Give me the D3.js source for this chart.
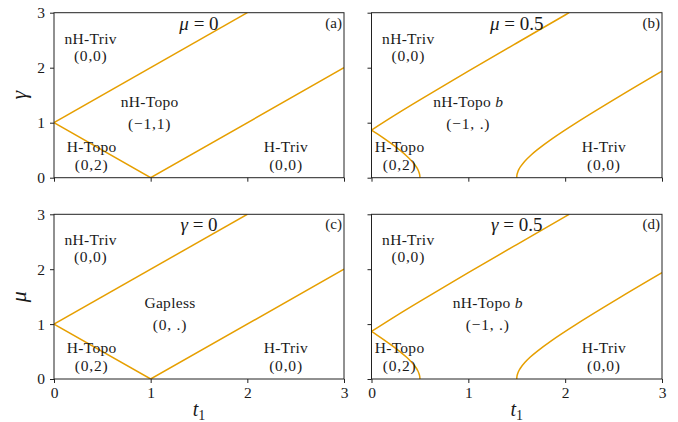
<!DOCTYPE html>
<html><head><meta charset="utf-8">
<script src="https://cdn.jsdelivr.net/npm/d3@7"></script>
<style>
body{margin:0;background:#fff;}
text{font-family:"Liberation Serif","Times New Roman",serif;fill:#1a1a1a;}
</style></head>
<body><svg id="c" width="678" height="422"></svg>
<script>
// ---- data ----
const tickValues = [0, 1, 2, 3];
// mu = 0 / gamma = 0 phase boundaries (t1, value)
const upper0T = [0, 2];
const upper0V = [1, 3];
const lower0T = [0, 1, 3];
const lower0V = [1, 0, 2];
// mu = 0.5 / gamma = 0.5 phase boundaries
const upperBT = [0, 0.25, 0.5, 1, 1.5, 2, 2.041];
const upperBV = [0.866, 1.146, 1.414, 1.936, 2.449, 2.958, 3.0];
const leftBT = [0, 0.057, 0.140, 0.219, 0.293, 0.360, 0.417, 0.462, 0.478, 0.490, 0.498, 0.5];
const leftBV = [0.866, 0.8, 0.7, 0.6, 0.5, 0.4, 0.3, 0.2, 0.15, 0.1, 0.05, 0];
const rightBT = [1.5, 1.502, 1.510, 1.522, 1.539, 1.583, 1.640, 1.707, 1.860, 2.118, 2.581, 3.0];
const rightBV = [0, 0.05, 0.1, 0.15, 0.2, 0.3, 0.4, 0.5, 0.7, 1.0, 1.5, 1.936];

const panelTags = ["(a)", "(b)", "(c)", "(d)"];
const panelTitles = [["μ", " = 0"], ["μ", " = 0.5"], ["γ", " = 0"], ["γ", " = 0.5"]];
const yLabels = ["γ", "μ"];

const zip = (a, b) => a.map((v, i) => [v, b[i]]);
const curves0 = [zip(upper0T, upper0V), zip(lower0T, lower0V)];
const curvesB = [zip(upperBT, upperBV), zip(leftBT, leftBV), zip(rightBT, rightBV)];

// region labels: [line1, italic suffix, line2, t1 centre, row]
const labelsA = [["nH-Triv", "", "(0,0)", 0.38, "top"], ["nH-Topo", "", "(−1,1)", 0.99, "mid"], ["H-Topo", "", "(0,2)", 0.39, "bot"], ["H-Triv", "", "(0,0)", 2.4, "bot"]];
const labelsB = [["nH-Triv", "", "(0,0)", 0.38, "top"], ["nH-Topo ", "b", "(−1, .)", 1.0, "mid"], ["H-Topo", "", "(0,2)", 0.29, "bot"], ["H-Triv", "", "(0,0)", 2.4, "bot"]];
const labelsC = [["nH-Triv", "", "(0,0)", 0.38, "top"], ["Gapless", "", "(0, .)", 1.2, "mid"], ["H-Topo", "", "(0,2)", 0.39, "bot"], ["H-Triv", "", "(0,0)", 2.4, "bot"]];
const labelsD = [["nH-Triv", "", "(0,0)", 0.38, "top"], ["nH-Topo ", "b", "(−1, .)", 1.2, "mid"], ["H-Topo", "", "(0,2)", 0.29, "bot"], ["H-Triv", "", "(0,0)", 2.4, "bot"]];

// ---- layout ----
const svg = d3.select("#c");
const colsX = [[54, 344], [371.5, 662]];
const rowsY = [[12.7, 177.7], [214.3, 379]];
const rowOffsets = {top: [44 - 177.7, 61 - 177.7], mid: [106.7 - 177.7, 128.5 - 177.7], bot: [151.7 - 177.7, 170 - 177.7]};
const color = "#e69f00";

const panels = [
  {c: 0, r: 0, curves: curves0, labels: labelsA, smooth: false},
  {c: 1, r: 0, curves: curvesB, labels: labelsB, smooth: true},
  {c: 0, r: 1, curves: curves0, labels: labelsC, smooth: false},
  {c: 1, r: 1, curves: curvesB, labels: labelsD, smooth: true}
];

panels.forEach((p, i) => {
  const x = d3.scaleLinear().domain([0, 3]).range(colsX[p.c]);
  const y = d3.scaleLinear().domain([0, 3]).range([rowsY[p.r][1], rowsY[p.r][0]]);
  const g = svg.append("g");
  const clipId = "clip" + i;
  svg.append("clipPath").attr("id", clipId).append("rect")
    .attr("x", x(0)).attr("y", y(3)).attr("width", x(3) - x(0)).attr("height", y(0) - y(3));

  const line = d3.line().x(d => x(d[0])).y(d => y(d[1]))
    .curve(p.smooth ? d3.curveCatmullRom.alpha(0.5) : d3.curveLinear);
  g.append("g").attr("clip-path", `url(#${clipId})`).selectAll("path").data(p.curves).join("path")
    .attr("d", line).attr("fill", "none").attr("stroke", color).attr("stroke-width", 1.5);

  // axes
  const xAxis = d3.axisBottom(x).tickValues(tickValues).tickSize(4).tickPadding(4)
    .tickFormat(p.r === 1 ? d3.format("d") : () => "");
  const yAxis = d3.axisLeft(y).tickValues(tickValues).tickSize(4).tickPadding(5)
    .tickFormat(p.c === 0 ? d3.format("d") : () => "");
  const gx = g.append("g").attr("transform", `translate(0,${y(0)})`).call(xAxis);
  const gy = g.append("g").attr("transform", `translate(${x(0)},0)`).call(yAxis);
  [gx, gy].forEach(a => {
    a.select(".domain").remove();
    a.selectAll("line").attr("stroke", "#222");
    a.selectAll("text").style("font-family", "Liberation Serif").style("font-size", "15.5px").attr("fill", "#1a1a1a");
  });
  g.append("rect").attr("x", x(0)).attr("y", y(3)).attr("width", x(3) - x(0)).attr("height", y(0) - y(3))
    .attr("fill", "none").attr("stroke", "#222").attr("stroke-width", 1);

  // title
  const t = g.append("text").attr("x", x(1.5)).attr("y", y(3) + 17).attr("text-anchor", "middle")
    .style("font-size", "19px");
  t.append("tspan").style("font-style", "italic").text(panelTitles[i][0]);
  t.append("tspan").text(panelTitles[i][1]);

  g.append("text").attr("x", x(3) - 2).attr("y", y(3) + 15).attr("text-anchor", "end")
    .style("font-size", "15px").text(panelTags[i]);

  // region labels
  p.labels.forEach(l => {
    const cx = x(l[3]);
    const off = rowOffsets[l[4]];
    const t1 = g.append("text").attr("x", cx).attr("y", y(0) + off[0]).attr("text-anchor", "middle")
      .style("font-size", "15.5px").style("letter-spacing", "0.3px");
    t1.append("tspan").text(l[0]);
    if (l[1]) t1.append("tspan").style("font-style", "italic").text(l[1]);
    g.append("text").attr("x", cx).attr("y", y(0) + off[1]).attr("text-anchor", "middle")
      .style("font-size", "15.5px").style("letter-spacing", "0.8px").attr("fill", "#333").text(l[2]);
  });

  // y label
  if (p.c === 0) {
    const yc = (rowsY[p.r][0] + rowsY[p.r][1]) / 2;
    g.append("text").attr("transform", `translate(26,${yc}) rotate(-90)`).attr("text-anchor", "middle")
      .style("font-size", "22px").style("font-style", "italic").text(yLabels[p.r]);
  }
  // x label
  if (p.r === 1) {
    const xl = g.append("text").attr("x", (colsX[p.c][0] + colsX[p.c][1]) / 2).attr("y", 416)
      .attr("text-anchor", "middle").style("font-size", "20px");
    xl.append("tspan").style("font-style", "italic").text("t");
    xl.append("tspan").attr("dy", 4).style("font-size", "14px").text("1");
  }
});
</script></body></html>
